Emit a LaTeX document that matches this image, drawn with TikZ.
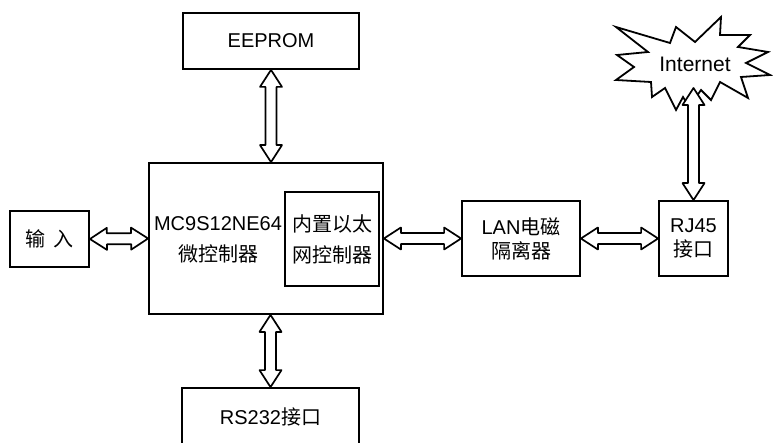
\documentclass[tikz,border=0pt]{standalone}
\usepackage{fontspec}
\setmainfont{Liberation Sans}
\newfontfamily\cjk{Noto Sans CJK SC}
\usetikzlibrary{calc}
\newcommand\arrHL{17pt}
\newcommand\arrHW{11pt}
\newcommand\arrSW{5.5pt}
\newcommand\dblarr[2]{%
  \path ($(#1)!\arrHL!(#2)$) coordinate (pA) ($(#2)!\arrHL!(#1)$) coordinate (pB);
  \draw[dblarrow] (#1) -- ($(pA)!\arrHW!90:(#2)$) -- ($(pA)!\arrSW!90:(#2)$)
    -- ($(pB)!\arrSW!-90:(#1)$) -- ($(pB)!\arrHW!-90:(#1)$) -- (#2)
    -- ($(pB)!\arrHW!90:(#1)$) -- ($(pB)!\arrSW!90:(#1)$)
    -- ($(pA)!\arrSW!-90:(#2)$) -- ($(pA)!\arrHW!-90:(#2)$) -- cycle;}
\begin{document}
\begin{tikzpicture}[x=1pt,y=-1pt,
  box/.style={draw, line width=1.8pt, inner sep=0pt, align=center, fill=white},
  lbl/.style={inner sep=0pt, align=center},
  dblarrow/.style={draw, line width=1.7pt, line join=round, fill=white},
  every node/.style={font=\fontsize{20}{24}\selectfont}]
\useasboundingbox (0,0) rectangle (773,443);
\clip (0,0) rectangle (773,443);
% boxes
\node[box, minimum width=176pt, minimum height=56pt] (eeprom) at (271,41) {EEPROM};
\node[box, minimum width=234pt, minimum height=151pt] (main) at (266,238.5) {};
\node[lbl, font=\fontsize{20}{31}\selectfont] (maintext) at (218,240) {MC9S12NE64\\{\cjk 微控制器}};
\node[box, minimum width=94pt, minimum height=94pt, font=\fontsize{20}{31}\selectfont] (inner) at (332,239) {{\cjk 内置以太}\\{\cjk 网控制器}};
\node[box, minimum width=79pt, minimum height=56pt] (input) at (49.5,239) {{\cjk 输\hspace{8pt}入}};
\node[box, minimum width=118pt, minimum height=75pt] (lan) at (521,238.5) {LAN{\cjk 电磁}\\{\cjk 隔离器}};
\node[box, minimum width=69pt, minimum height=75pt] (rj45) at (693.5,238.5) {RJ45\\{\cjk 接口}};
\node[box, minimum width=177pt, minimum height=58pt] (rs232) at (270.5,417) {RS232{\cjk 接口}};
% internet starburst
\draw[line width=1.8pt, line join=miter, fill=white]
  (616,27) -- (670,43) -- (676,27) -- (695,42) -- (721,17) -- (720,35)
  -- (750,35) -- (738,47) -- (768,52) -- (746,63) -- (770,75) -- (741,77)
  -- (748,98) -- (720,82) -- (711,100) -- (701,90) -- (694,100) -- (688,105)
  -- (683,97) -- (676,110) -- (665,88) -- (652,97) -- (651,82) -- (616,80)
  -- (634,67) -- (617,55) -- (648,52) -- cycle;
\node[lbl, font=\fontsize{21}{24}\selectfont] (inet) at (695,64) {Internet};
\coordinate (inettip) at (693.5,88);
% connectors
\coordinate (eA) at (eeprom.south);
\coordinate (eB) at (eeprom.south |- main.north);
\dblarr{eA}{eB}
\coordinate (rA) at (rs232.north |- main.south);
\coordinate (rB) at (rs232.north);
\dblarr{rA}{rB}
\coordinate (iA) at (input.east);
\coordinate (iB) at (main.west);
\dblarr{iA}{iB}
\coordinate (mA) at (main.east);
\coordinate (mB) at (lan.west);
\dblarr{mA}{mB}
\coordinate (lA) at (lan.east);
\coordinate (lB) at (rj45.west);
\dblarr{lA}{lB}
\coordinate (jA) at (rj45.north);
\dblarr{jA}{inettip}
\end{tikzpicture}
\end{document}
